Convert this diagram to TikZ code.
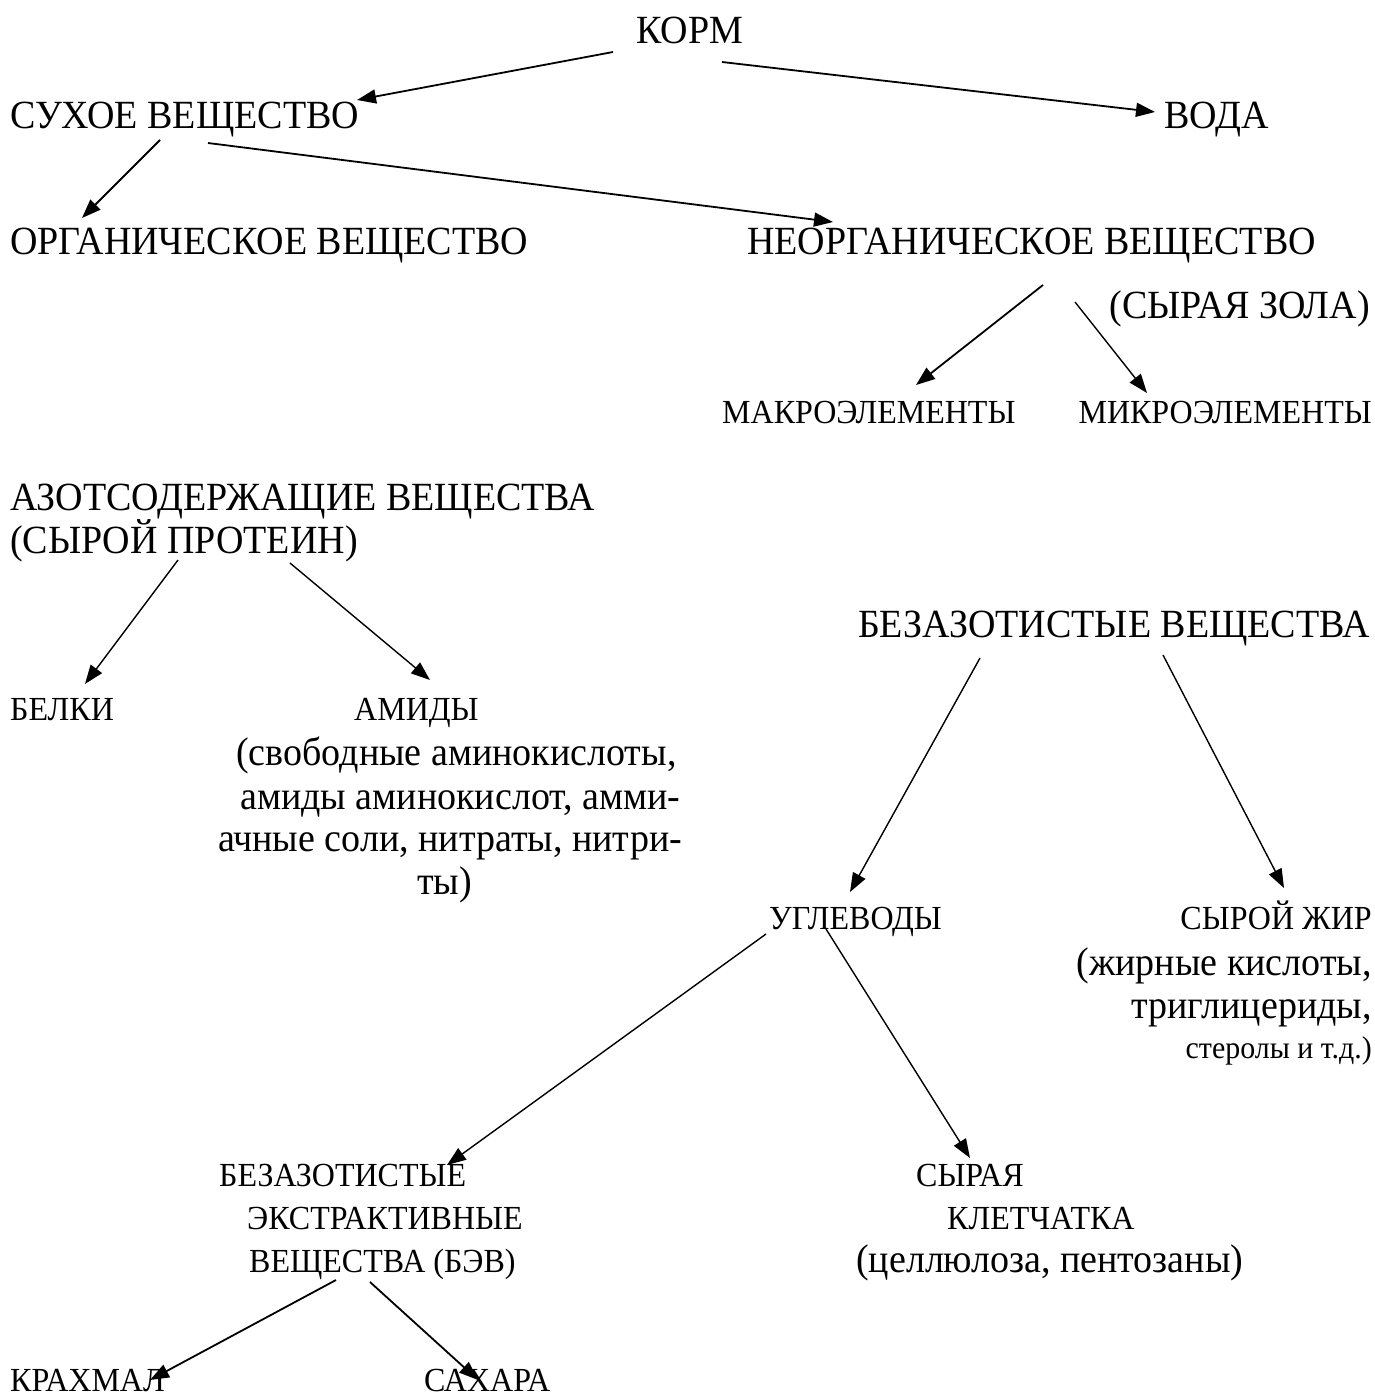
\documentclass[tikz,border=0pt]{standalone}
\usepackage{fontspec}
\setmainfont[FakeStretch=0.95]{Liberation Serif}
\usetikzlibrary{arrows.meta}
\begin{document}
\begin{tikzpicture}[x=1pt,y=-1pt,
  big/.style={anchor=base west,inner sep=0pt,font=\fontsize{40}{42}\selectfont},
  mid/.style={anchor=base west,inner sep=0pt,font=\fontsize{33.7}{35}\selectfont},
  sml/.style={anchor=base west,inner sep=0pt,font=\fontsize{31.5}{33}\selectfont},
  rt/.style={anchor=base east},
  arr/.style={line width=1.8pt,-{Triangle[length=19pt,width=14pt]}},
  thin/.style={line width=1.4pt,-{Triangle[length=19pt,width=14pt]}}]
\useasboundingbox[fill=white] (0,0) rectangle (1375,1397);
% texts
\node[big] (korm) at (636,44) {КОРМ};
\node[big] (dry) at (10,128) {СУХОЕ ВЕЩЕСТВО};
\node[big] (water) at (1164,128) {ВОДА};
\node[big] (org) at (10,254) {ОРГАНИЧЕСКОЕ ВЕЩЕСТВО};
\node[big] (inorg) at (747,254) {НЕОРГАНИЧЕСКОЕ ВЕЩЕСТВО};
\node[big,rt] (ash) at (1370,318) {(СЫРАЯ ЗОЛА)};
\node[mid] (macro) at (722,423) {МАКРОЭЛЕМЕНТЫ};
\node[mid,rt] (micro) at (1372,423) {МИКРОЭЛЕМЕНТЫ};
\node[big] (nitro) at (10,510) {АЗОТСОДЕРЖАЩИЕ ВЕЩЕСТВА};
\node[big] (prot) at (10,553) {(СЫРОЙ ПРОТЕИН)};
\node[big,rt] (nfree) at (1370,637) {БЕЗАЗОТИСТЫЕ ВЕЩЕСТВА};
\node[mid] (belki) at (10,720) {БЕЛКИ};
\node[mid] (amidy) at (354,720) {АМИДЫ};
\node[big] (am1) at (236,765) {(свободные аминокислоты,};
\node[big] (am2) at (240,809) {амиды аминокислот, амми-};
\node[big] (am3) at (218,851) {ачные соли, нитраты, нитри-};
\node[big] (am4) at (417,894) {ты)};
\node[mid] (carb) at (769,929) {УГЛЕВОДЫ};
\node[mid,rt] (fat) at (1372,929) {СЫРОЙ ЖИР};
\node[big,rt] (fat1) at (1372,975) {(жирные кислоты,};
\node[big,rt] (fat2) at (1372,1018) {триглицериды,};
\node[sml,rt] (fat3) at (1372,1058) {стеролы и т.д.)};
\node[mid] (bev1) at (219,1186) {БЕЗАЗОТИСТЫЕ};
\node[mid] (bev2) at (247,1229) {ЭКСТРАКТИВНЫЕ};
\node[mid] (bev3) at (249,1272) {ВЕЩЕСТВА (БЭВ)};
\node[mid] (fib1) at (916,1186) {СЫРАЯ};
\node[mid] (fib2) at (947,1229) {КЛЕТЧАТКА};
\node[big] (fib3) at (856,1272) {(целлюлоза, пентозаны)};
\node[mid] (starch) at (10,1391) {КРАХМАЛ};
\node[mid] (sugar) at (424,1391) {САХАРА};
% connector ends
\coordinate (a1s) at (613,52);   \coordinate (a1e) at (357,100);
\coordinate (a2s) at (722,62);   \coordinate (a2e) at (1155,112);
\coordinate (a3s) at (160,140);  \coordinate (a3e) at (82,218);
\coordinate (a4s) at (208,143);  \coordinate (a4e) at (833,222);
\coordinate (a5s) at (1043,285); \coordinate (a5e) at (916,385);
\coordinate (a6s) at (1075,302); \coordinate (a6e) at (1147,393);
\coordinate (a7s) at (178,560);  \coordinate (a7e) at (85,684);
\coordinate (a8s) at (290,563);  \coordinate (a8e) at (430,680);
\coordinate (a9s) at (980,658);  \coordinate (a9e) at (850,892);
\coordinate (a10s) at (1163,655); \coordinate (a10e) at (1284,888);
\coordinate (a11s) at (766,934); \coordinate (a11e) at (447,1165);
\coordinate (a12s) at (826,929); \coordinate (a12e) at (970,1158);
\coordinate (a13s) at (336,1280); \coordinate (a13e) at (150,1380);
\coordinate (a14s) at (370,1282); \coordinate (a14e) at (478,1380);
% connectors
\draw[arr] (a1s) -- (a1e);
\draw[arr] (a2s) -- (a2e);
\draw[arr] (a3s) -- (a3e);
\draw[arr] (a4s) -- (a4e);
\draw[arr] (a5s) -- (a5e);
\draw[thin] (a6s) -- (a6e);
\draw[thin] (a7s) -- (a7e);
\draw[thin] (a8s) -- (a8e);
\draw[thin] (a9s) -- (a9e);
\draw[thin] (a10s) -- (a10e);
\draw[thin] (a11s) -- (a11e);
\draw[thin] (a12s) -- (a12e);
\draw[arr] (a13s) -- (a13e);
\draw[arr] (a14s) -- (a14e);
\end{tikzpicture}
\end{document}
